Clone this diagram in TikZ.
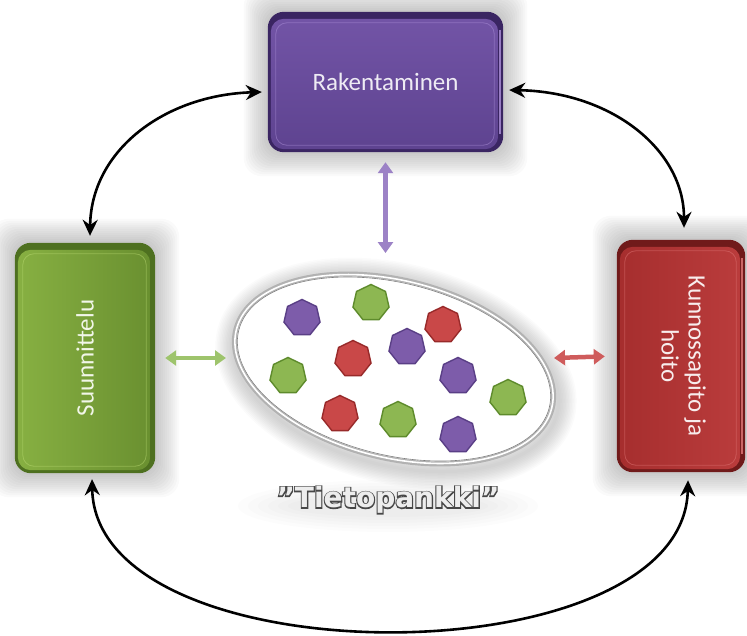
\documentclass[tikz,border=0pt]{standalone}
\usepackage{fontspec}
\setmainfont{Carlito}
\newfontfamily\bankfont{DejaVu Sans}
\newfontfamily\bankstroke{DejaVu Sans}[UprightFeatures={FakeBold=8},BoldFeatures={FakeBold=8}]
\usepackage{graphicx}
\usetikzlibrary{arrows.meta,shapes.geometric,backgrounds}

% box colours
\definecolor{rakdark}{HTML}{3A2562}
\definecolor{raktop}{HTML}{7254A6}
\definecolor{rakbot}{HTML}{5E4390}
\definecolor{rakedge}{HTML}{B094DC}
\definecolor{suudark}{HTML}{4E7020}
\definecolor{suuleft}{HTML}{87B042}
\definecolor{suuright}{HTML}{6A9030}
\definecolor{suuedge}{HTML}{BCDC74}
\definecolor{kundark}{HTML}{701A1A}
\definecolor{kunleft}{HTML}{A62E2E}
\definecolor{kunright}{HTML}{BA3C3C}
\definecolor{kunedge}{HTML}{E27A7A}
% pieces in the data bank
\definecolor{hpurple}{HTML}{7D5CAA}
\definecolor{hpurpleb}{HTML}{5A3F86}
\definecolor{hgreen}{HTML}{8DB752}
\definecolor{hgreenb}{HTML}{5E8B2C}
\definecolor{hred}{HTML}{C94848}
\definecolor{hredb}{HTML}{982A2A}
% link arrows
\definecolor{raklink}{HTML}{9C82C6}
\definecolor{suulink}{HTML}{9EC46C}
\definecolor{kunlink}{HTML}{CF5C5C}

% soft halo, bevelled base, shaded face, inner rim and right bevel of a phase box
\newcommand\phaseback[5]{%
  \foreach \k in {1,...,12}
    \fill[black,opacity=0.02,rounded corners=18pt]
      ([shift={(-2*\k,-2*\k)}]#1.north west) rectangle ([shift={(2*\k,2*\k)}]#1.south east);
  \fill[#2,rounded corners=16pt] (#1.north west) rectangle (#1.south east);
  \shade[#3,rounded corners=13pt]
    ([shift={(3,7)}]#1.north west) rectangle ([shift={(-5,-3)}]#1.south east);
  \draw[#4,line width=0.8pt,opacity=0.45,rounded corners=11pt]
    ([shift={(8,11)}]#1.north west) rectangle ([shift={(-9,-7)}]#1.south east);
  \draw[#5,line width=2.2pt,opacity=0.8]
    ([shift={(-3,18)}]#1.north east) -- ([shift={(-3,-18)}]#1.south east);
}

\tikzset{
  phase/.style={inner sep=0pt,align=center,font=\fontsize{25}{30}\selectfont},
  hept/.style={regular polygon,regular polygon sides=7,minimum size=37pt,
    inner sep=0pt,line width=1.4pt},
  hp/.style={hept,fill=hpurple,draw=hpurpleb},
  hg/.style={hept,fill=hgreen,draw=hgreenb},
  hr/.style={hept,fill=hred,draw=hredb},
  cyc/.style={black,line width=2.6pt,
    {Stealth[length=16pt,width=15pt]}-{Stealth[length=16pt,width=15pt]}},
  link/.style={line width=4.5pt,
    {Triangle[length=11pt,width=15pt]}-{Triangle[length=11pt,width=15pt]}},
}

\begin{document}
\begin{tikzpicture}[x=1pt,y=-1pt]
\useasboundingbox (0,0) rectangle (747,635);

% phase boxes
\node[phase,minimum width=235pt,minimum height=140pt,text=white!88!raktop]
  (rak) at (385.5,82) {Rakentaminen};
\node[phase,minimum width=140pt,minimum height=230pt,text=white!88!suuleft]
  (suu) at (85,358) {\rotatebox{90}{Suunnittelu}};
\node[phase,minimum width=128pt,minimum height=232pt,text=white!90!kunright]
  (kun) at (681,356)
  {\rotatebox{-90}{\begin{tabular}{@{}c@{}}Kunnossapito ja\\[-3pt]hoito\end{tabular}}};

% data bank
\node[ellipse,minimum width=326pt,minimum height=178pt,rotate=-14,inner sep=0pt]
  (bank) at (394,369) {};

\node[hp] (h1)  at (302,318) {};
\node[hg] (h2)  at (371,303) {};
\node[hr] (h3)  at (443,325) {};
\node[hp] (h4)  at (407,347) {};
\node[hr] (h5)  at (353,359) {};
\node[hg] (h6)  at (288,376) {};
\node[hp] (h7)  at (458,376) {};
\node[hg] (h8)  at (508,398) {};
\node[hr] (h9)  at (340,414) {};
\node[hg] (h10) at (398,420) {};
\node[hp] (h11) at (458,435) {};

% outlined title: a stroked dark copy under a light one
\node[font=\fontsize{28}{33}\selectfont] (title) at (388,500)
  {\rlap{\bankstroke\bfseries\color{black!72}”Tietopankki”}%
   {\bankfont\bfseries\color{white!93!black}”Tietopankki”}};

% outer cycle
\draw[cyc] ([shift={(-6,10)}]rak.west)
  .. controls (165,95) and (91,150) .. ([shift={(5,-7)}]suu.north);
\draw[cyc] ([shift={(6,8)}]rak.east)
  .. controls (612,92) and (684,150) .. ([shift={(3,-12)}]kun.north);
\draw[cyc] ([shift={(7,6)}]suu.south)
  .. controls (96,680) and (684,680) .. ([shift={(7,8)}]kun.south);

% links to the data bank
\coordinate (bankT) at (385.5,253);
\coordinate (bankL) at (226,358);
\coordinate (bankR) at (554,358);
\draw[link,raklink,shorten <=10pt] (rak.south) -- (bankT);
\draw[link,suulink,shorten <=10pt] (suu.east) -- (bankL);
\draw[link,kunlink,shorten >=12pt] (bankR) -- (kun.west);

\begin{pgfonlayer}{background}
  \phaseback{rak}{rakdark}{top color=raktop,bottom color=rakbot}{rakedge}{rakedge}
  \phaseback{suu}{suudark}{left color=suuleft,right color=suuright}{suuedge}{suudark}
  \phaseback{kun}{kundark}{left color=kunleft,right color=kunright}{kunedge}{kunedge}
  % haze round the bank
  \foreach \k in {1,...,12}
    \draw[black,opacity=0.014,line width=3*\k pt,rotate around={-14:(bank.center)}]
      ([shift={(3,4)}]bank.center) ellipse [x radius=166,y radius=92];
  \fill[white,rotate around={-14:(bank.center)}]
    (bank.center) ellipse [x radius=163,y radius=89];
  % silver ring
  \draw[black!30,line width=5pt,rotate around={-14:(bank.center)}]
    (bank.center) ellipse [x radius=163,y radius=89];
  \draw[white,line width=1.6pt,rotate around={-14:(bank.center)}]
    (bank.center) ellipse [x radius=162.5,y radius=88.5];
  \draw[black!50,line width=0.6pt,rotate around={-14:(bank.center)}]
    (bank.center) ellipse [x radius=160,y radius=86];
  % soft haze under the title
  \foreach \k in {1,...,6}
    \fill[black,opacity=0.012] (388,506) ellipse [x radius=90+10*\k,y radius=8+3*\k];
\end{pgfonlayer}
\end{tikzpicture}
\end{document}
